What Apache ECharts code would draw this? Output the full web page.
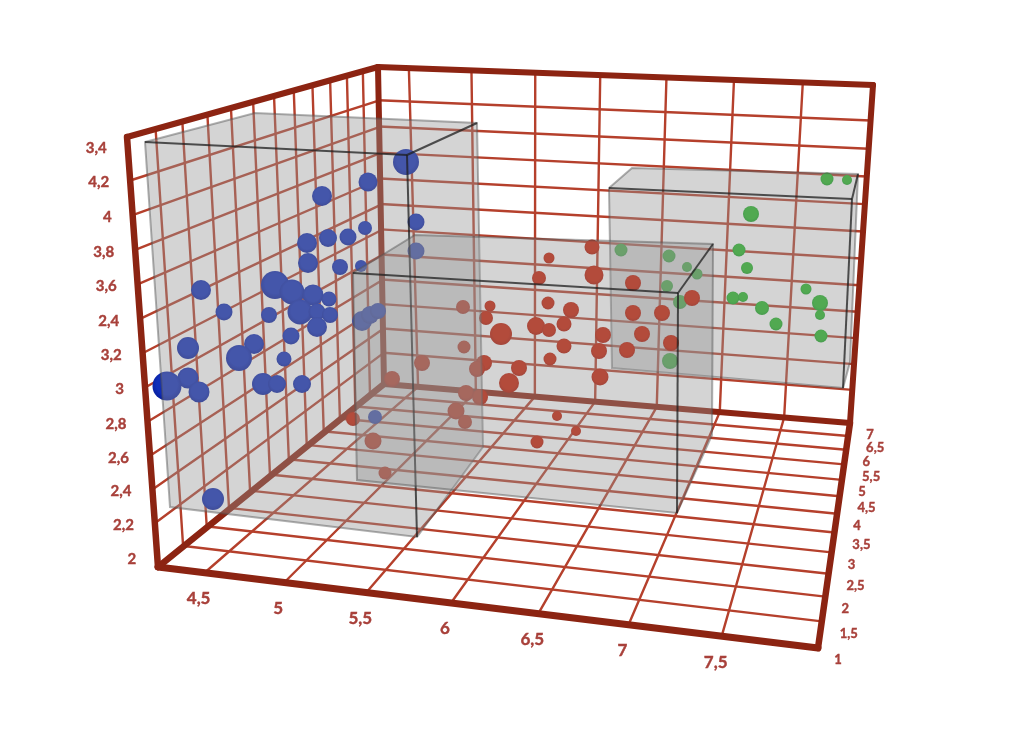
<!DOCTYPE html>
<html><head><meta charset="utf-8">
<style>html,body{margin:0;padding:0;background:#fff}#c{width:1024px;height:736px}</style>
<script src="https://cdn.jsdelivr.net/npm/echarts@6/dist/echarts.min.js"></script>
</head><body><div id="c"></div>
<script>
// Tick values of the three drawn axes and their printed labels
const xTicks=[4.5,5,5.5,6,6.5,7,7.5];
const xLabels=['4,5','5','5,5','6','6,5','7','7,5'];
const yTicks=[2,2.2,2.4,2.6,2.8,3,3.2,3.4,3.6,3.8,4,4.2,4.4];
const yLabels=['2','2,2','2,4','2,6','2,8','3','3,2','2,4','3,6','3,8','4','4,2','3,4'];
const zTicks=[1,1.5,2,2.5,3,3.5,4,4.5,5,5.5,6,6.5,7];
const zLabels=['1','1,5','2','2,5','3','3,5','4','4,5','5','5,5','6','6,5','7'];
const xRangeFloor=[4.2,8], xRangeBackTop=[4.25,8], yRange=[1.94,4.45], zRange=[1,7];
const frontEdgeBow=0.075;

// Corners of the drawn room
const cornerFrontLeftBottom=[158,567], cornerFrontLeftTop=[127,137];
const cornerBackLeftTop=[378,67], cornerBackLeftBottom=[384,384];
const cornerBackRightTop=[873,85], cornerBackRightBottom=[850,423];
const cornerFrontRightBottom=[818,648];

// Bubbles as seen in the picture: [across, down, radius]
const setosa=[[406,162,13],[368,182,9.5],[322,196,10],[416,222,8.5],[365,228,7],[328,238,9],[348,237,8.5],[307,243,10],[416,251,8.5],[308,263,10],[340,267,8],[361,266,6],[201,290,10],[224,312,8.5],[269,315,8],[275,285,14],[292,292,12.5],[313,295,10.5],[329,299,7.5],[300,312,12.5],[317,312,8.5],[330,315,8],[317,327,10],[291,336,8.5],[254,344,10],[188,348,11],[239,358,13],[284,359,7.5],[188,378,10.5],[167,386,14.5],[199,392,10.5],[263,384,11],[277,384,9],[302,384,9],[362,321,10],[370,315,9],[378,311,8],[375,417,7],[213,499,11]];
const versicolor=[[592,247,7.5],[549,258,5.5],[594,275,9.5],[539,278,7],[633,283,8],[692,298,8],[548,303,6.5],[571,310,8],[490,306,5.5],[463,307,7],[486,318,7],[633,313,8],[662,313,8],[536,326,9],[564,324,7.5],[549,330,7],[501,334,11],[642,334,8],[603,335,8],[564,346,7.5],[671,343,8],[464,347,6.5],[599,351,8],[627,350,8],[550,359,6.5],[422,363,8],[519,368,8],[484,363,8],[477,369,8],[392,379,8],[600,377,8.5],[509,383,10],[466,393,8],[480,397,8],[456,411,8.5],[465,422,7],[557,416,5],[576,431,5],[537,442,6.5],[353,419,7],[373,441,8.5],[385,473,6.5]];
const virginica=[[827,179,6.5],[847,180,5],[751,214,8],[621,250,6.5],[669,256,6.5],[739,250,6.5],[687,267,5],[697,274,5.5],[747,268,6],[667,286,6],[806,289,5.5],[680,302,7],[733,298,6.5],[743,297,5],[820,303,8],[762,308,7],[820,315,5],[776,324,6.5],[821,336,6.5],[670,361,8]];

// Translucent class boxes: outline, then the three dark front edges from the near corner
const boxSetosaOutline=[[145,142],[255,113],[477,123],[483,447],[417,537],[170,507]];
const boxSetosaEdges=[[[145,142],[407,155]],[[407,155],[477,123]],[[407,155],[417,537]]];
const boxVersicolorOutline=[[353,273],[415,235],[713,244],[712,435],[677,513],[357,480]];
const boxVersicolorEdges=[[[353,273],[678,293]],[[678,293],[713,244]],[[678,293],[677,513]]];
const boxVirginicaOutline=[[609,188],[632,168],[858,174],[850,362],[843,388],[612,368]];
const boxVirginicaEdges=[[[609,188],[852,199]],[[852,199],[858,174]],[[852,199],[843,388]]];

function quadMap(p0,p1,p2,p3){
  const dx1=p1[0]-p2[0],dx2=p3[0]-p2[0],sx=p0[0]-p1[0]+p2[0]-p3[0];
  const dy1=p1[1]-p2[1],dy2=p3[1]-p2[1],sy=p0[1]-p1[1]+p2[1]-p3[1];
  const den=dx1*dy2-dx2*dy1;
  const g=(sx*dy2-dx2*sy)/den,h=(dx1*sy-sx*dy1)/den;
  const a=p1[0]-p0[0]+g*p1[0],b=p3[0]-p0[0]+h*p3[0],c=p0[0];
  const d=p1[1]-p0[1]+g*p1[1],e=p3[1]-p0[1]+h*p3[1],f=p0[1];
  return (u,v)=>{const w=g*u+h*v+1;return [(a*u+b*v+c)/w,(d*u+e*v+f)/w];};
}
const A=cornerFrontLeftBottom,B=cornerFrontLeftTop,C=cornerBackLeftTop,D=cornerBackLeftBottom,E=cornerBackRightTop,F=cornerBackRightBottom,G=cornerFrontRightBottom;
const backWall=quadMap(D,F,E,C), leftWall=quadMap(A,D,C,B), floorPlane=quadMap(A,G,F,D);
const frac=(v,r)=>(v-r[0])/(r[1]-r[0]);
const fx=x=>frac(x,xRangeFloor), fxTop=x=>frac(x,xRangeBackTop), fy=y=>frac(y,yRange), fz=z=>frac(z,zRange);
const frontEdge=y=>{const v=fy(y);return leftWall(0,v+frontEdgeBow*v*(1-v));};

const gridLines=[];
const addGrid=(a,b)=>gridLines.push([a[0],a[1],b[0],b[1]]);
xTicks.forEach(x=>{addGrid(floorPlane(fx(x),1),backWall(fxTop(x),1));addGrid(floorPlane(fx(x),0),floorPlane(fx(x),1));});
yTicks.slice(1,-1).forEach(y=>{addGrid(backWall(0,fy(y)),backWall(1,fy(y)));addGrid(frontEdge(y),leftWall(1,fy(y)));});
zTicks.slice(1,-1).forEach(z=>{addGrid(leftWall(fz(z),0),leftWall(fz(z),1));addGrid(floorPlane(0,fz(z)),floorPlane(1,fz(z)));});
const frameLines=[[A,G,7],[A,B,6.5],[B,C,6],[C,D,6],[C,E,6],[E,F,6],[D,F,6],[A,D,6.5],[G,F,6.5]].map(l=>[l[0][0],l[0][1],l[1][0],l[1][1],l[2]]);

const labels=[];
xTicks.forEach((x,i)=>{const p=floorPlane(fx(x),0);labels.push([p[0]-6,p[1]+26,xLabels[i],17,'center']);});
yTicks.forEach((y,i)=>{const p=frontEdge(y);labels.push([p[0]-21,p[1]+2,yLabels[i],15,'right']);});
zTicks.forEach((z,i)=>{const p=floorPlane(1,fz(z));labels.push([p[0]+(i%2?27:20),p[1]+12,zLabels[i],13,'center']);});

const lineSeries=(data,color,z,fixedW)=>({type:'custom',coordinateSystem:'cartesian2d',z,silent:true,data,
  encode:{x:[0,2],y:[1,3]},clip:false,
  renderItem:(p,api)=>{const a=api.coord([api.value(0),api.value(1)]),b=api.coord([api.value(2),api.value(3)]);
    return {type:'line',shape:{x1:a[0],y1:a[1],x2:b[0],y2:b[1]},style:{stroke:color,lineWidth:fixedW||api.value(4),lineCap:'round'}};}});
const boxSeries=(outline,edges,z)=>({type:'custom',coordinateSystem:'cartesian2d',z,silent:true,data:[[0]],clip:false,
  renderItem:(p,api)=>{const c=q=>api.coord(q);
    return {type:'group',children:[
      {type:'polygon',shape:{points:outline.map(c)},style:{fill:'rgba(148,148,148,0.4)',stroke:'rgba(80,80,80,0.45)',lineWidth:2}},
      ...edges.map(e=>{const a=c(e[0]),b=c(e[1]);return {type:'line',shape:{x1:a[0],y1:a[1],x2:b[0],y2:b[1]},style:{stroke:'rgba(30,30,30,0.75)',lineWidth:2}};})
    ]};}});
const bubbles=(name,data,z,inner,outer)=>({type:'scatter',name,data,z,silent:true,clip:false,
  symbolSize:v=>v[2]*2,
  itemStyle:{opacity:1,color:new echarts.graphic.RadialGradient(0.5,0.45,0.6,[{offset:0,color:inner},{offset:0.6,color:inner},{offset:1,color:outer}])}});

const chart=echarts.init(document.getElementById('c'),null,{renderer:'canvas'});
chart.setOption({animation:false,backgroundColor:'#fff',
  grid:{left:0,right:0,top:0,bottom:0},
  xAxis:{type:'value',min:0,max:1024,show:false},
  yAxis:{type:'value',min:0,max:736,inverse:true,show:false},
  series:[
    lineSeries(gridLines,'#b5402c',1,2.4),
    lineSeries(frameLines,'#8c2412',2),
    bubbles('virginica',virginica,3,'#25b825','#109a20'),
    boxSeries(boxVirginicaOutline,boxVirginicaEdges,4),
    bubbles('versicolor',versicolor,5,'#c81c00','#a81000'),
    bubbles('setosa',setosa,6,'#0f2db9','#051a96'),
    boxSeries(boxSetosaOutline,boxSetosaEdges,7),
    boxSeries(boxVersicolorOutline,boxVersicolorEdges,8),
    {type:'custom',coordinateSystem:'cartesian2d',z:9,silent:true,clip:false,data:labels,
     renderItem:(p,api)=>{const q=api.coord([api.value(0),api.value(1)]);const l=labels[p.dataIndex];
       return {type:'text',x:q[0],y:q[1],style:{text:l[2],fill:'#a8403a',stroke:'#a8403a',lineWidth:0.4,font:'bold '+l[3]+'px Lato, "Open Sans", sans-serif',textAlign:l[4],textVerticalAlign:'middle'}};}}
  ]});
</script></body></html>
